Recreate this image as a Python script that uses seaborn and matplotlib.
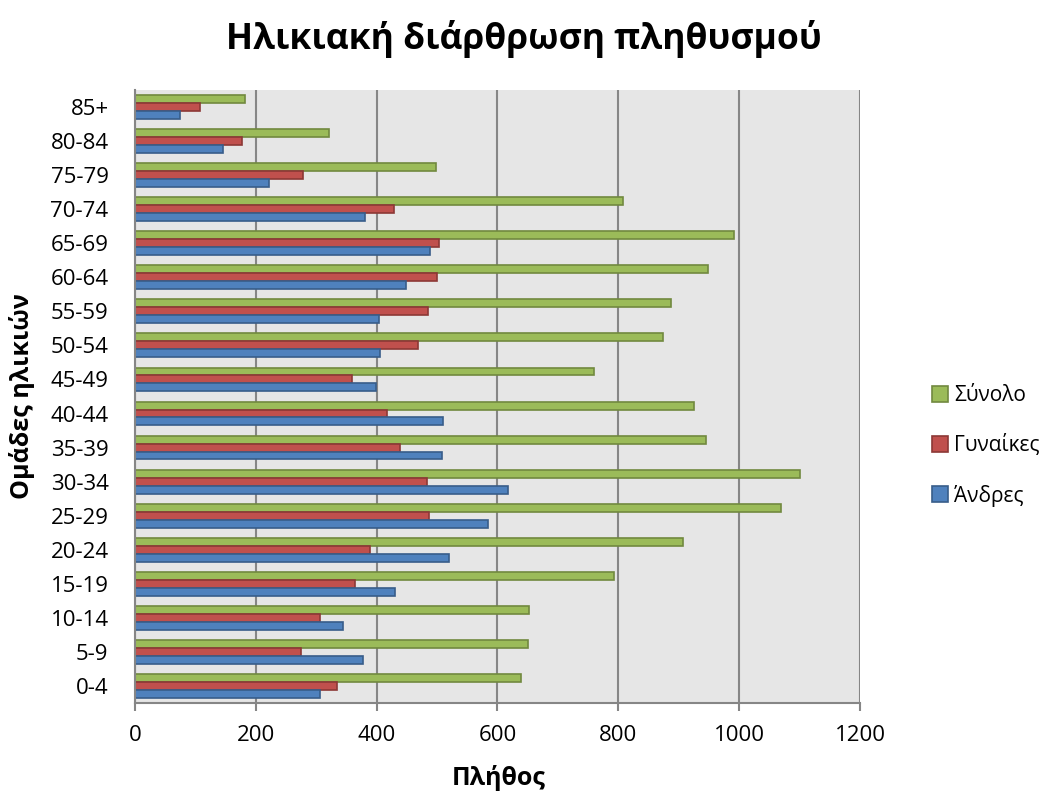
import matplotlib
matplotlib.use("Agg")
import matplotlib.pyplot as plt
import seaborn as sns
import pandas as pd
from matplotlib.patches import Patch

groups = ["0-4", "5-9", "10-14", "15-19", "20-24", "25-29", "30-34", "35-39",
          "40-44", "45-49", "50-54", "55-59", "60-64", "65-69", "70-74",
          "75-79", "80-84", "85+"]
men = [307, 377, 345, 430, 519, 585, 617, 508, 510, 399, 406, 404, 449, 489, 381, 221, 145, 75]
women = [334, 274, 307, 364, 389, 486, 484, 438, 417, 360, 469, 485, 500, 503, 428, 278, 177, 108]
total = [639, 650, 652, 793, 907, 1070, 1100, 945, 926, 759, 874, 888, 948, 991, 807, 498, 321, 182]

series_names = ["Σύνολο", "Γυναίκες", "Άνδρες"]
fills = ["#9BBB59", "#C0504D", "#4F81BD"]
edges = ["#71893F", "#8C3836", "#385D8A"]

rows = []
for name, vals in zip(series_names, [total, women, men]):
    for g, v in zip(groups, vals):
        rows.append({"group": g, "series": name, "value": v})
df = pd.DataFrame(rows)

sns.set_style("white")
plt.rcParams["font.family"] = ["Open Sans", "DejaVu Sans"]
plt.rcParams["text.color"] = "black"
plt.rcParams["axes.labelcolor"] = "black"

fig = plt.figure(figsize=(10.48, 7.92), dpi=100)
ax = fig.add_axes([0.1288, 0.1124, 0.8206 - 0.1288, 0.8864 - 0.1124])

sns.barplot(data=df, y="group", x="value", hue="series", orient="h",
            order=groups[::-1], hue_order=series_names, palette=fills,
            width=0.7, ax=ax, legend=False, saturation=1, linewidth=1.2)

for cont, ec in zip(ax.containers, edges):
    for bar in cont:
        bar.set_edgecolor(ec)

ax.set_facecolor("#E6E6E6")
ax.set_xlim(0, 1200)
ax.set_xticks(range(0, 1201, 200))
ax.set_axisbelow(True)
ax.grid(axis="x", color="#868686", linewidth=1.5)
ax.grid(axis="y", visible=False)
for s in ["top", "right"]:
    ax.spines[s].set_visible(False)
for s in ["left", "bottom"]:
    ax.spines[s].set_color("#868686")
    ax.spines[s].set_linewidth(1.5)
ax.tick_params(axis="x", which="major", length=6, color="#868686", width=1.5,
               labelsize=16, pad=10, bottom=True, labelcolor="black")
ax.tick_params(axis="y", length=0, labelsize=16, pad=19, labelcolor="black")

ax.set_xlabel("Πλήθος", fontsize=18, fontweight="bold", va="center")
ax.set_ylabel("Ομάδες ηλικιών", fontsize=18, fontweight="bold", va="center")
ax.xaxis.set_label_coords(0.502, -0.122)
ax.yaxis.set_label_coords(-0.156, 0.5)

fig.suptitle("Ηλικιακή διάρθρωση πληθυσμού", fontsize=25.5, fontweight="bold",
             x=0.5, y=0.975)

handles = [Patch(facecolor=f, edgecolor=e, linewidth=1.2, label=n)
           for f, e, n in zip(fills, edges, series_names)]
fig.legend(handles=handles, loc="center left", bbox_to_anchor=(0.871, 0.437),
           frameon=False, fontsize=15, handlelength=0.8, handleheight=0.8,
           handletextpad=0.3, labelspacing=1.35)

fig.savefig("out.png", dpi=100)
